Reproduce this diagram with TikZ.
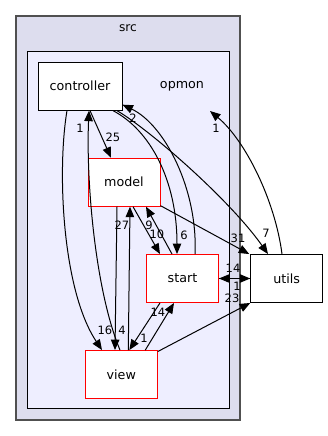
\documentclass[tikz,border=0pt]{standalone}
\usepackage{fontspec}
\setmainfont{DejaVu Sans}
\usetikzlibrary{arrows.meta}

\definecolor{srcfill}{HTML}{DDDDEE}
\definecolor{srcline}{HTML}{505050}
\definecolor{opmonfill}{HTML}{EEEEFF}

\tikzset{
  clusterbox/.style={draw=srcline, fill=srcfill, line width=1.4pt, inner sep=0pt},
  innerbox/.style={draw=black, fill=opmonfill, line width=0.9pt, inner sep=0pt},
  dirbox/.style={draw=black, fill=white, line width=0.9pt, inner sep=0pt,
    minimum width=72pt, minimum height=48pt, font=\fontsize{12.7}{15}\selectfont},
  reddir/.style={dirbox, draw=red},
  clustertitle/.style={inner sep=0pt, font=\fontsize{12.2}{15}\selectfont},
  dep/.style={line width=1pt, -{Triangle[length=10.5pt,width=8.5pt]}},
  cnt/.style={inner sep=0pt, font=\fontsize{11.5}{13}\selectfont}
}

\begin{document}
\begin{tikzpicture}[x=1pt, y=-1pt]
\useasboundingbox (0,0) rectangle (328,436);

% directory clusters
\node[clusterbox, minimum width=224pt, minimum height=404pt] (src) at (128,218) {};
\node[clustertitle] (srctitle) at (128,28) {src};
\node[innerbox, minimum width=202pt, minimum height=357pt] (opmon) at (128,230.2) {};
\node[clustertitle, font=\fontsize{12.7}{15}\selectfont] (opmontitle) at (182,86) {opmon};

% directories
\node[dirbox, minimum width=84pt] (controller) at (80,86.2) {controller};
\node[reddir] (model) at (124,182.2) {model};
\node[reddir] (start) at (182.5,278.5) {start};
\node[dirbox] (utils) at (286.7,278.5) {utils};
\node[reddir] (view) at (121.3,374.5) {view};

\coordinate (opmonin) at (210,111);

% dependencies
\draw[dep] ([xshift=10pt]controller.south) -- ([xshift=-13pt]model.north);
\node[cnt] (l25) at (113,137) {25};

\draw[dep] ([xshift=-13pt]controller.south) .. controls (57,170) and (62,290) .. ([xshift=-19.3pt]view.north);
\node[cnt] (l16) at (105,330) {16};

\draw[dep] ([xshift=-1.3pt]view.north) .. controls (95,290) and (86,180) .. ([xshift=9pt]controller.south);
\node[cnt] (l1a) at (80,128) {1};

\draw[dep] ([xshift=33pt]controller.south) .. controls (150,130) and (177,180) .. ([xshift=-5.5pt]start.north);
\node[cnt] (l6) at (184,235) {6};

\draw[dep] ([xshift=12.5pt]start.north) .. controls (198,190) and (165,125) .. ([yshift=6pt]controller.south east);
\node[cnt] (l2) at (133,118) {2};

\draw[dep] ([xshift=37pt]controller.south) .. controls (150,130) and (230,200) .. ([xshift=-18.7pt]utils.north);
\node[cnt] (l7) at (266,233) {7};

\draw[dep] ([xshift=-4.7pt]utils.north) .. controls (275,200) and (245,140) .. (opmonin);
\node[cnt] (l1b) at (216,128) {1};

\draw[dep] ([xshift=-7pt]model.south) -- ([xshift=-6.3pt]view.north);
\node[cnt] (l4) at (122,330) {4};

\draw[dep] ([xshift=7pt]view.north) -- ([xshift=6pt]model.south);
\node[cnt] (l27) at (122,225) {27};

\draw[dep] ([xshift=9pt]model.south) -- ([xshift=-22.5pt]start.north);
\node[cnt] (l10) at (157,234) {10};

\draw[dep] ([xshift=-10.5pt]start.north) -- ([xshift=22pt]model.south);
\node[cnt] (l9) at (149,225) {9};

\draw[dep] ([yshift=1pt]model.south east) -- ([xshift=-1pt]utils.north west);
\node[cnt] (l31) at (238,238) {31};

\draw[dep] (start.east) -- (utils.west);
\node[cnt] (l14a) at (233,268) {14};

\draw[dep] (utils.west) -- (start.east);
\node[cnt] (l1c) at (237,286) {1};

\draw[dep] ([xshift=-22.5pt]start.south) -- ([xshift=8pt]view.north);
\node[cnt] (l14b) at (158,312) {14};

\draw[dep] ([xshift=24pt]view.north) -- ([xshift=-8.5pt]start.south);
\node[cnt] (l1d) at (144,338) {1};

\draw[dep] ([yshift=-1.5pt]view.north east) -- (utils.south west);
\node[cnt] (l23) at (232,298) {23};
\end{tikzpicture}
\end{document}
